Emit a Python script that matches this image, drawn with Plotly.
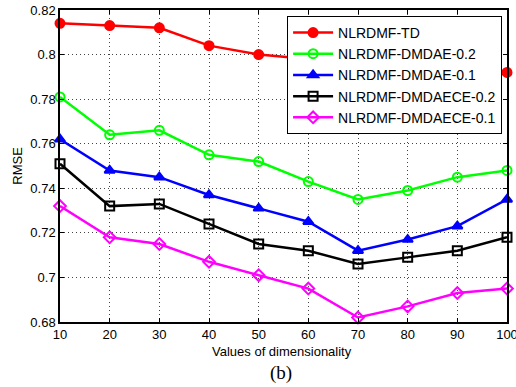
import plotly.graph_objects as go

dims = [10, 20, 30, 40, 50, 60, 70, 80, 90, 100]
td = [0.814, 0.813, 0.812, 0.804, 0.800, 0.798, 0.797, 0.795, 0.794, 0.792]
dmdae_02 = [0.781, 0.764, 0.766, 0.755, 0.752, 0.743, 0.735, 0.739, 0.745, 0.748]
dmdae_01 = [0.762, 0.748, 0.745, 0.737, 0.731, 0.725, 0.712, 0.717, 0.723, 0.735]
dmdaece_02 = [0.751, 0.732, 0.733, 0.724, 0.715, 0.712, 0.706, 0.709, 0.712, 0.718]
dmdaece_01 = [0.732, 0.718, 0.715, 0.707, 0.701, 0.695, 0.682, 0.687, 0.693, 0.695]

series = [
    ("NLRDMF-TD", td, "#ff0000", "circle", "#ff0000"),
    ("NLRDMF-DMDAE-0.2", dmdae_02, "#00ff00", "circle-open", "#00ff00"),
    ("NLRDMF-DMDAE-0.1", dmdae_01, "#0000ff", "triangle-up", "#0000ff"),
    ("NLRDMF-DMDAECE-0.2", dmdaece_02, "#000000", "square-open", "#000000"),
    ("NLRDMF-DMDAECE-0.1", dmdaece_01, "#ff00ff", "diamond-open", "#ff00ff"),
]

FONT = "Liberation Sans, Arial"

fig = go.Figure()
for name, vals, col, sym, mcol in series:
    fig.add_trace(go.Scatter(
        x=dims, y=vals, name=name, mode="lines+markers",
        line=dict(color=col, width=2.5),
        marker=dict(symbol=sym, size=9, color=mcol, line=dict(color=mcol, width=2)),
        cliponaxis=False,
    ))

axis_common = dict(
    showline=True, linecolor="black", linewidth=1.5, mirror="ticks",
    ticks="inside", ticklen=4, tickcolor="black",
    showgrid=True, gridcolor="#444444", gridwidth=1, griddash="1px,3px",
    zeroline=False, automargin=False, ticklabeloverflow="allow",
    tickfont=dict(family=FONT, size=13, color="black"),
)

fig.update_xaxes(range=[10, 100], tick0=10, dtick=10, **axis_common)
fig.update_yaxes(range=[0.68, 0.82], tick0=0.68, dtick=0.02, **axis_common)

fig.update_layout(
    width=516, height=387,
    margin=dict(l=60, r=9, t=10, b=65, autoexpand=False),
    paper_bgcolor="white", plot_bgcolor="white",
    showlegend=True,
    legend=dict(x=0.989, y=0.981, xanchor="right", yanchor="top",
                bgcolor="white", bordercolor="black", borderwidth=1,
                font=dict(family=FONT, size=14, color="black"),
                itemwidth=40, tracegroupgap=0),
    annotations=[
        dict(text="RMSE", x=-0.097, y=0.5, xref="paper", yref="paper", textangle=-90,
             showarrow=False, xanchor="center", yanchor="middle",
             font=dict(family=FONT, size=13, color="black")),
        dict(text="Values of dimensionality", x=0.4966, y=-0.094, xref="paper", yref="paper",
             showarrow=False, xanchor="center", yanchor="middle",
             font=dict(family=FONT, size=13, color="black")),
        dict(text="(b)", x=0.494, y=-0.1635, xref="paper", yref="paper",
             showarrow=False, xanchor="center", yanchor="middle",
             font=dict(family="Liberation Serif, Times New Roman", size=19, color="black")),
    ],
)

fig.write_html(
    "out.html",
    config={"displayModeBar": False},
    post_script="document.body.style.margin='0';document.body.style.overflow='hidden';",
)
